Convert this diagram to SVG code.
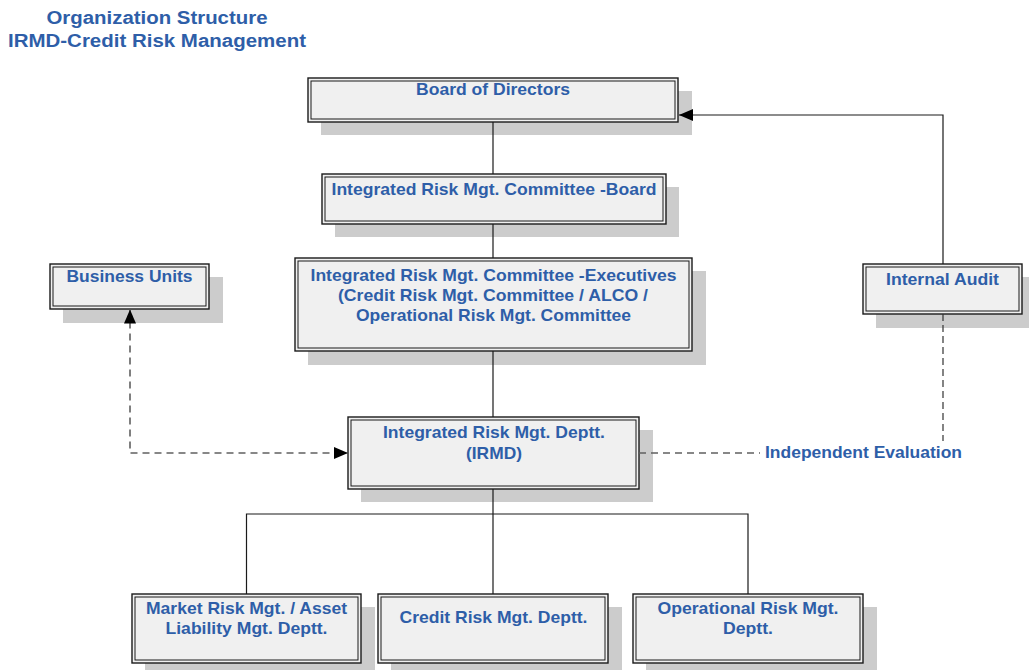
<svg xmlns="http://www.w3.org/2000/svg" width="1029" height="670" viewBox="0 0 1029 670">
  <defs>
    <style>
      .shadow { fill: #cccccc; stroke: none; }
      .outer { fill: #f0f0f0; stroke: #1a1a1a; stroke-width: 1.4; }
      .inner { fill: none; stroke: #1a1a1a; stroke-width: 1; }
      .lbl { font-family: "Liberation Sans", Arial, sans-serif; font-weight: bold; font-size: 17px; fill: #2e5ea8; text-anchor: middle; }
      .title { font-family: "Liberation Sans", Arial, sans-serif; font-weight: bold; font-size: 18px; fill: #2e5ea8; text-anchor: middle; }
      .solid { fill: none; stroke: #1a1a1a; stroke-width: 1.2; }
      .dash-gray { fill: none; stroke: #606060; stroke-width: 1.6; stroke-dasharray: 7 5; }
      .dash-dark { fill: none; stroke: #333333; stroke-width: 1.2; stroke-dasharray: 7 4; }
    </style>
    <marker id="arrow" markerUnits="userSpaceOnUse" markerWidth="16" markerHeight="14" refX="14" refY="6" orient="auto-start-reverse" viewBox="0 0 16 14">
      <path d="M0,0 L14,6 L0,12 Z" fill="#000"/>
    </marker>
  </defs>

  <g id="title">
    <text class="title" x="157" y="24" textLength="221" lengthAdjust="spacingAndGlyphs">Organization Structure</text>
    <text class="title" x="157" y="47" textLength="298" lengthAdjust="spacingAndGlyphs">IRMD-Credit Risk Management</text>
  </g>

  <g id="board">
    <rect class="shadow" x="321" y="91" width="371" height="44"/>
    <rect class="outer" x="308" y="78" width="370" height="44"/>
    <rect class="inner" x="311" y="81" width="364" height="38"/>
    <text class="lbl" x="493" y="95" textLength="154" lengthAdjust="spacingAndGlyphs">Board of Directors</text>
  </g>

  <g id="committee-board">
    <rect class="shadow" x="335" y="187" width="344" height="50"/>
    <rect class="outer" x="322" y="174" width="344" height="50"/>
    <rect class="inner" x="325" y="177" width="338" height="44"/>
    <text class="lbl" x="494" y="195" textLength="325" lengthAdjust="spacingAndGlyphs">Integrated Risk Mgt. Committee -Board</text>
  </g>

  <g id="committee-exec">
    <rect class="shadow" x="308" y="271" width="398" height="94"/>
    <rect class="outer" x="295" y="258" width="397" height="93"/>
    <rect class="inner" x="298" y="261" width="391" height="87"/>
    <text class="lbl" x="493.5" y="281" textLength="366" lengthAdjust="spacingAndGlyphs">Integrated Risk Mgt. Committee -Executives</text>
    <text class="lbl" x="493" y="301" textLength="310" lengthAdjust="spacingAndGlyphs">(Credit Risk Mgt. Committee / ALCO /</text>
    <text class="lbl" x="493.5" y="321" textLength="275" lengthAdjust="spacingAndGlyphs">Operational Risk Mgt. Committee</text>
  </g>

  <g id="business-units">
    <rect class="shadow" x="63" y="277" width="160" height="46"/>
    <rect class="outer" x="50" y="264" width="159" height="45"/>
    <rect class="inner" x="53" y="267" width="153" height="39"/>
    <text class="lbl" x="129.5" y="282" textLength="126" lengthAdjust="spacingAndGlyphs">Business Units</text>
  </g>

  <g id="internal-audit">
    <rect class="shadow" x="876" y="277" width="160" height="51"/>
    <rect class="outer" x="863" y="264" width="159" height="50"/>
    <rect class="inner" x="866" y="267" width="153" height="44"/>
    <text class="lbl" x="942.5" y="285" textLength="113" lengthAdjust="spacingAndGlyphs">Internal Audit</text>
  </g>

  <g id="irmd">
    <rect class="shadow" x="361" y="430" width="292" height="72"/>
    <rect class="outer" x="348" y="417" width="291" height="72"/>
    <rect class="inner" x="351" y="420" width="285" height="66"/>
    <text class="lbl" x="494" y="438" textLength="222" lengthAdjust="spacingAndGlyphs">Integrated Risk Mgt. Deptt.</text>
    <text class="lbl" x="494" y="459" textLength="56" lengthAdjust="spacingAndGlyphs">(IRMD)</text>
  </g>

  <g id="independent-evaluation">
    <text class="lbl" x="863.5" y="458" textLength="197" lengthAdjust="spacingAndGlyphs">Independent Evaluation</text>
  </g>

  <g id="market-risk">
    <rect class="shadow" x="145" y="607" width="230" height="70"/>
    <rect class="outer" x="132" y="594" width="229" height="69"/>
    <rect class="inner" x="135" y="597" width="223" height="63"/>
    <text class="lbl" x="246.5" y="614" textLength="201" lengthAdjust="spacingAndGlyphs">Market Risk Mgt. / Asset</text>
    <text class="lbl" x="246.5" y="634" textLength="162" lengthAdjust="spacingAndGlyphs">Liability Mgt. Deptt.</text>
  </g>

  <g id="credit-risk">
    <rect class="shadow" x="391" y="607" width="231" height="70"/>
    <rect class="outer" x="378" y="594" width="230" height="69"/>
    <rect class="inner" x="381" y="597" width="224" height="63"/>
    <text class="lbl" x="493.5" y="623" textLength="188" lengthAdjust="spacingAndGlyphs">Credit Risk Mgt. Deptt.</text>
  </g>

  <g id="operational-risk">
    <rect class="shadow" x="646" y="607" width="231" height="70"/>
    <rect class="outer" x="633" y="594" width="230" height="69"/>
    <rect class="inner" x="636" y="597" width="224" height="63"/>
    <text class="lbl" x="748" y="614" textLength="181" lengthAdjust="spacingAndGlyphs">Operational Risk Mgt.</text>
    <text class="lbl" x="748" y="634" textLength="50" lengthAdjust="spacingAndGlyphs">Deptt.</text>
  </g>

  <g id="connectors">
    <path class="solid" d="M493,122 V174"/>
    <path class="solid" d="M493,224 V258"/>
    <path class="solid" d="M493,351 V417"/>
    <path class="solid" d="M493,489 V594"/>
    <path class="solid" d="M246.5,594 V514 H748 V594"/>
    <path class="solid" d="M943,264 V115 H679" marker-end="url(#arrow)"/>
    <path class="dash-gray" d="M130,309.5 V453 H348" marker-start="url(#arrow)" marker-end="url(#arrow)"/>
    <path class="dash-gray" d="M639,453 H760"/>
    <path class="dash-dark" d="M943,314 V441"/>
  </g>
</svg>
